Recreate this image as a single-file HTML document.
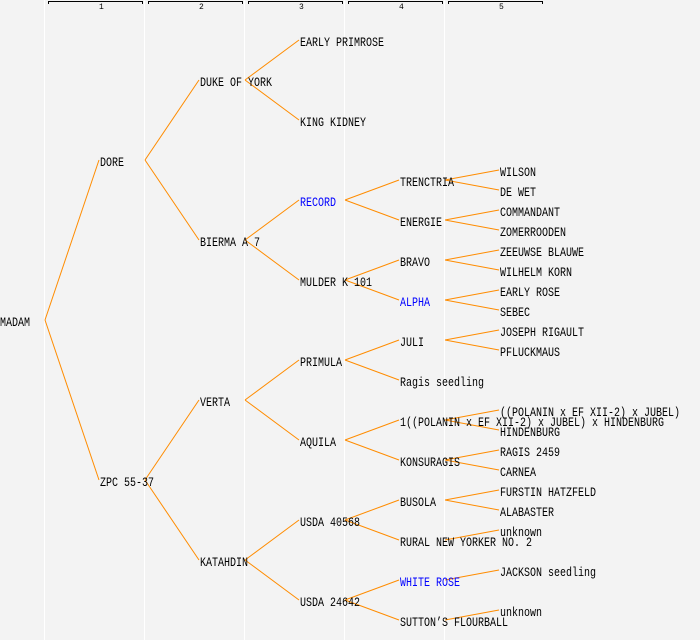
<!DOCTYPE html>
<html><head><meta charset="utf-8"><style>
html,body{margin:0;padding:0;background:#f3f3f3}
svg{display:block}
text{font-family:"Liberation Mono",monospace;font-size:13px;fill:#000}
.b{fill:#0000ff}
.n{font-size:8px}
line.o{stroke:#ff8c00;stroke-width:1}
</style></head><body>
<svg width="700" height="640" viewBox="0 0 700 640" xmlns="http://www.w3.org/2000/svg">
<rect width="700" height="640" fill="#f3f3f3"/>
<g stroke="#ffffff" stroke-width="1">
<line x1="44.5" y1="0" x2="44.5" y2="640"/><line x1="144.5" y1="0" x2="144.5" y2="640"/><line x1="244.5" y1="0" x2="244.5" y2="640"/><line x1="344.5" y1="0" x2="344.5" y2="640"/><line x1="444.5" y1="0" x2="444.5" y2="640"/>
</g>
<g stroke="#000" fill="none" stroke-width="1">
<path d="M48.5 4V1.5H142.5V4"/><path d="M148.5 4V1.5H242.5V4"/><path d="M248.5 4V1.5H342.5V4"/><path d="M348.5 4V1.5H442.5V4"/><path d="M448.5 4V1.5H542.5V4"/>
</g>
<text class="n" x="99" y="9">1</text><text class="n" x="199" y="9">2</text><text class="n" x="299" y="9">3</text><text class="n" x="399" y="9">4</text><text class="n" x="499" y="9">5</text>
<g class="l">
<line class="o" x1="45" y1="320" x2="99" y2="160"/><line class="o" x1="45" y1="320" x2="99" y2="480"/>
<line class="o" x1="145" y1="160" x2="199" y2="80"/><line class="o" x1="145" y1="160" x2="199" y2="240"/>
<line class="o" x1="145" y1="480" x2="199" y2="400"/><line class="o" x1="145" y1="480" x2="199" y2="560"/>
<line class="o" x1="245" y1="80" x2="299" y2="40"/><line class="o" x1="245" y1="80" x2="299" y2="120"/>
<line class="o" x1="245" y1="240" x2="299" y2="200"/><line class="o" x1="245" y1="240" x2="299" y2="280"/>
<line class="o" x1="245" y1="400" x2="299" y2="360"/><line class="o" x1="245" y1="400" x2="299" y2="440"/>
<line class="o" x1="245" y1="560" x2="299" y2="520"/><line class="o" x1="245" y1="560" x2="299" y2="600"/>
<line class="o" x1="345" y1="200" x2="399" y2="180"/><line class="o" x1="345" y1="200" x2="399" y2="220"/>
<line class="o" x1="345" y1="280" x2="399" y2="260"/><line class="o" x1="345" y1="280" x2="399" y2="300"/>
<line class="o" x1="345" y1="360" x2="399" y2="340"/><line class="o" x1="345" y1="360" x2="399" y2="380"/>
<line class="o" x1="345" y1="440" x2="399" y2="420"/><line class="o" x1="345" y1="440" x2="399" y2="460"/>
<line class="o" x1="345" y1="520" x2="399" y2="500"/><line class="o" x1="345" y1="520" x2="399" y2="540"/>
<line class="o" x1="345" y1="600" x2="399" y2="580"/><line class="o" x1="345" y1="600" x2="399" y2="620"/>
<line class="o" x1="445" y1="180" x2="499" y2="170"/><line class="o" x1="445" y1="180" x2="499" y2="190"/>
<line class="o" x1="445" y1="220" x2="499" y2="210"/><line class="o" x1="445" y1="220" x2="499" y2="230"/>
<line class="o" x1="445" y1="260" x2="499" y2="250"/><line class="o" x1="445" y1="260" x2="499" y2="270"/>
<line class="o" x1="445" y1="300" x2="499" y2="290"/><line class="o" x1="445" y1="300" x2="499" y2="310"/>
<line class="o" x1="445" y1="340" x2="499" y2="330"/><line class="o" x1="445" y1="340" x2="499" y2="350"/>
<line class="o" x1="445" y1="420" x2="499" y2="410"/><line class="o" x1="445" y1="420" x2="499" y2="430"/>
<line class="o" x1="445" y1="460" x2="499" y2="450"/><line class="o" x1="445" y1="460" x2="499" y2="470"/>
<line class="o" x1="445" y1="500" x2="499" y2="490"/><line class="o" x1="445" y1="500" x2="499" y2="510"/>
<line class="o" x1="445" y1="540" x2="499" y2="530"/>
<line class="o" x1="445" y1="580" x2="499" y2="570"/>
<line class="o" x1="445" y1="620" x2="499" y2="610"/>
</g>
<g>
<text x="0" y="326" textLength="30" lengthAdjust="spacingAndGlyphs">MADAM</text>
<text x="100" y="166" textLength="24" lengthAdjust="spacingAndGlyphs">DORE</text>
<text x="100" y="486" textLength="54" lengthAdjust="spacingAndGlyphs">ZPC 55-37</text>
<text x="200" y="86" textLength="72" lengthAdjust="spacingAndGlyphs">DUKE OF YORK</text>
<text x="200" y="246" textLength="60" lengthAdjust="spacingAndGlyphs">BIERMA A 7</text>
<text x="200" y="406" textLength="30" lengthAdjust="spacingAndGlyphs">VERTA</text>
<text x="200" y="566" textLength="48" lengthAdjust="spacingAndGlyphs">KATAHDIN</text>
<text x="300" y="46" textLength="84" lengthAdjust="spacingAndGlyphs">EARLY PRIMROSE</text>
<text x="300" y="126" textLength="66" lengthAdjust="spacingAndGlyphs">KING KIDNEY</text>
<text class="b" x="300" y="206" textLength="36" lengthAdjust="spacingAndGlyphs">RECORD</text>
<text x="300" y="286" textLength="72" lengthAdjust="spacingAndGlyphs">MULDER K 101</text>
<text x="300" y="366" textLength="42" lengthAdjust="spacingAndGlyphs">PRIMULA</text>
<text x="300" y="446" textLength="36" lengthAdjust="spacingAndGlyphs">AQUILA</text>
<text x="300" y="526" textLength="60" lengthAdjust="spacingAndGlyphs">USDA 40568</text>
<text x="300" y="606" textLength="60" lengthAdjust="spacingAndGlyphs">USDA 24642</text>
<text x="400" y="186" textLength="54" lengthAdjust="spacingAndGlyphs">TRENCTRIA</text>
<text x="400" y="226" textLength="42" lengthAdjust="spacingAndGlyphs">ENERGIE</text>
<text x="400" y="266" textLength="30" lengthAdjust="spacingAndGlyphs">BRAVO</text>
<text class="b" x="400" y="306" textLength="30" lengthAdjust="spacingAndGlyphs">ALPHA</text>
<text x="400" y="346" textLength="24" lengthAdjust="spacingAndGlyphs">JULI</text>
<text x="400" y="386" textLength="84" lengthAdjust="spacingAndGlyphs">Ragis seedling</text>
<text x="400" y="426" textLength="264" lengthAdjust="spacingAndGlyphs">1((POLANIN x EF XII-2) x JUBEL) x HINDENBURG</text>
<text x="400" y="466" textLength="60" lengthAdjust="spacingAndGlyphs">KONSURAGIS</text>
<text x="400" y="506" textLength="36" lengthAdjust="spacingAndGlyphs">BUSOLA</text>
<text x="400" y="546" textLength="132" lengthAdjust="spacingAndGlyphs">RURAL NEW YORKER NO. 2</text>
<text class="b" x="400" y="586" textLength="60" lengthAdjust="spacingAndGlyphs">WHITE ROSE</text>
<text x="400" y="626" textLength="108" lengthAdjust="spacingAndGlyphs">SUTTON’S FLOURBALL</text>
<text x="500" y="176" textLength="36" lengthAdjust="spacingAndGlyphs">WILSON</text>
<text x="500" y="196" textLength="36" lengthAdjust="spacingAndGlyphs">DE WET</text>
<text x="500" y="216" textLength="60" lengthAdjust="spacingAndGlyphs">COMMANDANT</text>
<text x="500" y="236" textLength="66" lengthAdjust="spacingAndGlyphs">ZOMERROODEN</text>
<text x="500" y="256" textLength="84" lengthAdjust="spacingAndGlyphs">ZEEUWSE BLAUWE</text>
<text x="500" y="276" textLength="72" lengthAdjust="spacingAndGlyphs">WILHELM KORN</text>
<text x="500" y="296" textLength="60" lengthAdjust="spacingAndGlyphs">EARLY ROSE</text>
<text x="500" y="316" textLength="30" lengthAdjust="spacingAndGlyphs">SEBEC</text>
<text x="500" y="336" textLength="84" lengthAdjust="spacingAndGlyphs">JOSEPH RIGAULT</text>
<text x="500" y="356" textLength="60" lengthAdjust="spacingAndGlyphs">PFLUCKMAUS</text>
<text x="500" y="416" textLength="180" lengthAdjust="spacingAndGlyphs">((POLANIN x EF XII-2) x JUBEL)</text>
<text x="500" y="436" textLength="60" lengthAdjust="spacingAndGlyphs">HINDENBURG</text>
<text x="500" y="456" textLength="60" lengthAdjust="spacingAndGlyphs">RAGIS 2459</text>
<text x="500" y="476" textLength="36" lengthAdjust="spacingAndGlyphs">CARNEA</text>
<text x="500" y="496" textLength="96" lengthAdjust="spacingAndGlyphs">FURSTIN HATZFELD</text>
<text x="500" y="516" textLength="54" lengthAdjust="spacingAndGlyphs">ALABASTER</text>
<text x="500" y="536" textLength="42" lengthAdjust="spacingAndGlyphs">unknown</text>
<text x="500" y="576" textLength="96" lengthAdjust="spacingAndGlyphs">JACKSON seedling</text>
<text x="500" y="616" textLength="42" lengthAdjust="spacingAndGlyphs">unknown</text>
</g>
</svg>
</body></html>
